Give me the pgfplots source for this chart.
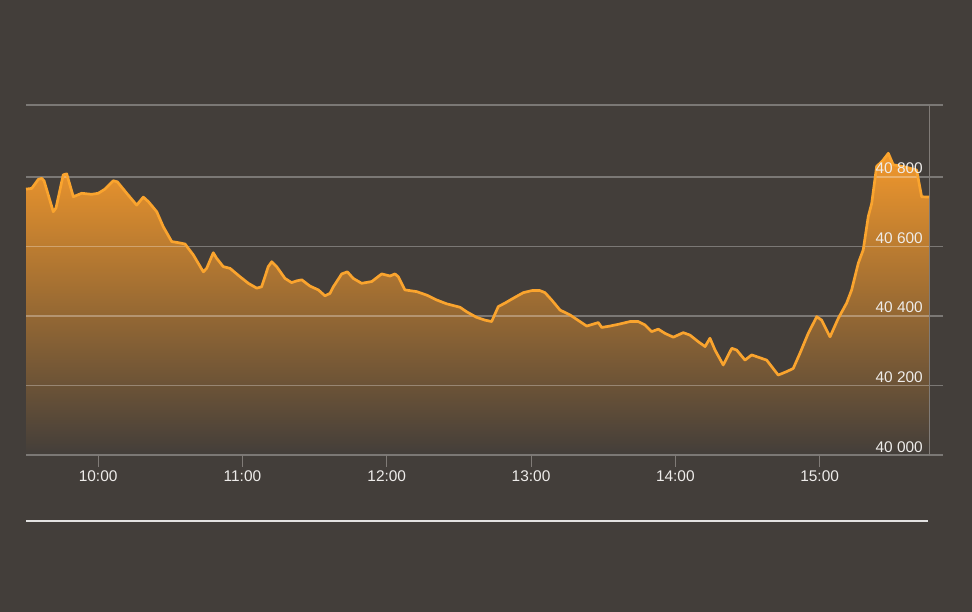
\documentclass[border=0pt]{standalone}
\usepackage{fontspec}
\setmainfont{Liberation Sans}
\usepackage{pgfplots}
\pgfplotsset{compat=1.18}
\usepackage{pgfplotstable}
\definecolor{bg}{RGB}{67,62,58}
\definecolor{lineor}{RGB}{250,164,46}
\definecolor{filltop}{RGB}{242,152,44}
\definecolor{fillmid}{RGB}{176,116,52}
\definecolor{txt}{RGB}{238,236,234}
\definecolor{gridc}{RGB}{128,123,119}

\pgfplotstableread{
h v
9.500 40765
9.540 40767
9.585 40793
9.609 40796
9.625 40789
9.689 40700
9.708 40711
9.758 40806
9.782 40809
9.828 40743
9.886 40753
9.955 40750
10.001 40753
10.047 40765
10.105 40789
10.133 40786
10.198 40753
10.267 40719
10.313 40742
10.348 40729
10.406 40700
10.451 40657
10.510 40614
10.555 40611
10.602 40607
10.659 40576
10.729 40527
10.752 40537
10.798 40582
10.821 40566
10.867 40542
10.914 40537
10.983 40513
11.041 40494
11.099 40480
11.133 40484
11.179 40542
11.203 40556
11.237 40542
11.295 40508
11.341 40496
11.376 40501
11.411 40504
11.468 40486
11.526 40475
11.572 40458
11.607 40465
11.630 40484
11.688 40521
11.727 40527
11.768 40508
11.826 40494
11.896 40499
11.965 40521
12.023 40515
12.057 40521
12.080 40513
12.126 40475
12.208 40470
12.277 40460
12.346 40446
12.415 40435
12.508 40425
12.554 40412
12.623 40396
12.681 40388
12.727 40384
12.773 40427
12.819 40437
12.877 40451
12.946 40467
13.005 40473
13.062 40473
13.097 40467
13.143 40446
13.201 40417
13.270 40403
13.339 40384
13.386 40371
13.466 40381
13.490 40367
13.547 40371
13.616 40377
13.686 40384
13.743 40384
13.790 40374
13.836 40355
13.882 40362
13.928 40350
13.986 40339
14.055 40352
14.101 40345
14.159 40326
14.206 40312
14.240 40336
14.275 40302
14.332 40259
14.391 40307
14.425 40302
14.483 40273
14.529 40288
14.598 40278
14.633 40273
14.713 40230
14.772 40240
14.817 40249
14.864 40293
14.921 40350
14.980 40398
15.014 40388
15.072 40340
15.129 40393
15.187 40437
15.222 40475
15.268 40552
15.302 40590
15.337 40686
15.361 40724
15.395 40830
15.441 40849
15.476 40868
15.510 40835
15.580 40830
15.672 40820
15.707 40743
15.758 40742
}\idx

\begin{document}
\begin{tikzpicture}
\fill[bg] (-26bp,-157bp) rectangle (946bp,455bp);
\useasboundingbox (-26bp,-157bp) rectangle (946bp,455bp);
\begin{axis}[
  at={(0,0)}, anchor=south west,
  scale only axis,
  width=903bp, height=350bp,
  xmin=9.5, xmax=15.758,
  ymin=40000, ymax=41007,
  clip=false,
  axis on top,
  scaled y ticks=false,
  axis line style={draw=none},
  xtick={10,11,12,13,14,15},
  xticklabels={10:00,11:00,12:00,13:00,14:00,15:00},
  xtick pos=bottom,
  xtick align=outside,
  major tick length=12bp,
  xtick style={draw=gridc, line width=1bp},
  ytick={40000,40200,40400,40600,40800},
  yticklabels={40 000,40 200,40 400,40 600,40 800},
  ytick pos=right,
  ytick style={draw=none},
  yticklabel pos=right,
  tick label style={font=\fontsize{15.5}{18}\selectfont, text=txt, inner sep=0pt},
  xticklabel style={anchor=base, yshift=-14bp},
  yticklabel style={anchor=base east, xshift=-6bp, yshift=3bp},
]
\addplot[draw=none, top color=filltop, middle color=fillmid, bottom color=bg] table[x=h, y=v] {\idx} \closedcycle;
\draw[white, opacity=0.3, line width=1.2bp] (axis cs:9.5,40000) -- (axis cs:15.855,40000);
\draw[white, opacity=0.3, line width=1.2bp] (axis cs:9.5,40200) -- (axis cs:15.855,40200);
\draw[white, opacity=0.3, line width=1.2bp] (axis cs:9.5,40400) -- (axis cs:15.855,40400);
\draw[white, opacity=0.3, line width=1.2bp] (axis cs:9.5,40600) -- (axis cs:15.855,40600);
\draw[white, opacity=0.3, line width=1.2bp] (axis cs:9.5,40800) -- (axis cs:15.855,40800);
\draw[white, opacity=0.3, line width=1.2bp] (axis cs:9.5,41007) -- (axis cs:15.855,41007);
\draw[gridc, line width=1bp] (axis cs:15.758,40000) -- (axis cs:15.758,41007);
\addplot[lineor, line width=2.7bp, line join=round] table[x=h, y=v] {\idx};
\end{axis}
\draw[white!85!bg, line width=1.6bp] (0bp,-66bp) -- (902bp,-66bp);
\end{tikzpicture}
\end{document}
